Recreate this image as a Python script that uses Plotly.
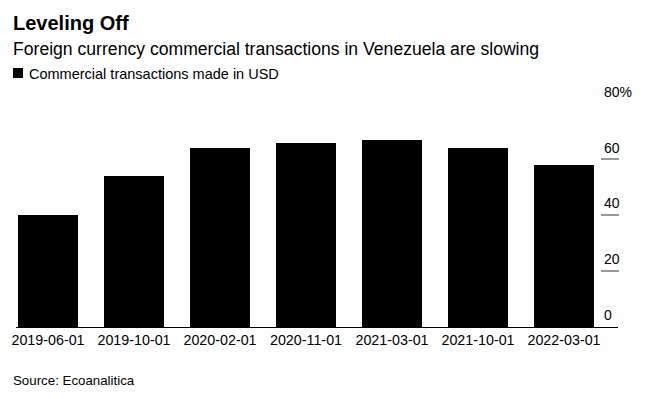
import plotly.graph_objects as go

dates = ["2019-06-01", "2019-10-01", "2020-02-01", "2020-11-01",
         "2021-03-01", "2021-10-01", "2022-03-01"]
usd_share = [40, 54, 64, 66, 67, 64, 58]
y_tick_vals = [0, 20, 40, 60, 80]
y_tick_text = ["0", "20", "40", "60", "80%"]

FONT = "Liberation Sans"
W, H = 645, 399
PAGE_OFF = 8  # default body margin of the page
# plot area in window pixels
PL, PR, PT, PB = 16, 618, 103, 327
ML = PL - PAGE_OFF
MT = PT - PAGE_OFF
MR = W - (PR - PAGE_OFF)
MB = H - (PB - PAGE_OFF)
plot_w = PR - PL
plot_h = PB - PT


def px(vx):
    return (vx - PL) / plot_w


def py(vy):
    return (PB - vy) / plot_h


idx = list(range(len(dates)))

fig = go.Figure()
fig.add_trace(go.Bar(
    x=idx, y=usd_share, name="Commercial transactions made in USD",
    marker=dict(color="#000000", line=dict(width=0)),
    width=0.698, showlegend=False,
))

fig.update_layout(
    width=W, height=H,
    margin=dict(l=ML, r=MR, t=MT, b=MB, autoexpand=False),
    paper_bgcolor="white", plot_bgcolor="white",
    font=dict(family=FONT, color="#000000", size=14),
    bargap=0,
    showlegend=False,
    xaxis=dict(range=[-0.372, 6.628], showgrid=False, automargin=False,
               tickmode="array", tickvals=idx, ticktext=dates,
               showline=True, linecolor="#000000", linewidth=1,
               ticks="", tickfont=dict(size=14.3, family=FONT, color="#000000"),
               zeroline=False),
    yaxis=dict(range=[0, 80.2], side="left", anchor="free", automargin=False,
               position=px(600),
               tickmode="array", tickvals=y_tick_vals, ticktext=y_tick_text,
               ticks="inside", ticklen=18, tickwidth=2, tickcolor="#999999",
               ticklabelposition="inside top", ticklabeloverflow="allow",
               ticklabelshift=-1, ticklabelstandoff=0,
               tickfont=dict(size=14, family=FONT, color="#000000"),
               showgrid=False, showline=False, zeroline=False),
)

# legend swatch and label
fig.add_shape(type="rect", xref="paper", yref="paper",
              x0=px(13), x1=px(23), y0=py(78), y1=py(68),
              fillcolor="#000000", line=dict(width=0))
fig.add_annotation(text="Commercial transactions made in USD", xref="paper", yref="paper",
                   x=px(28), y=py(74), xanchor="left", yanchor="middle", showarrow=False,
                   xshift=-1, font=dict(size=14.5, family=FONT, color="#000000"))

fig.add_annotation(text="<b>Leveling Off</b>", xref="paper", yref="paper",
                   x=px(12), y=py(23), xanchor="left", yanchor="middle", showarrow=False,
                   xshift=-1, font=dict(size=20, family=FONT, color="#000000"))
fig.add_annotation(text="Foreign currency commercial transactions in Venezuela are slowing",
                   xref="paper", yref="paper",
                   x=px(12), y=py(48.5), xanchor="left", yanchor="middle", showarrow=False,
                   xshift=-1, font=dict(size=17.6, family=FONT, color="#000000"))
fig.add_annotation(text="Source: Ecoanalitica", xref="paper", yref="paper",
                   x=px(12), y=py(380), xanchor="left", yanchor="middle", showarrow=False,
                   xshift=-1, font=dict(size=13.3, family=FONT, color="#000000"))

fig.write_html("out.html")
